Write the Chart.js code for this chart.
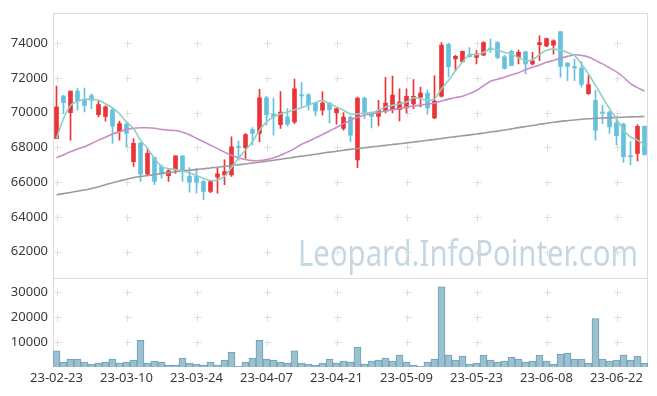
<!DOCTYPE html>
<html><head><meta charset="utf-8">
<script src="https://cdn.jsdelivr.net/npm/chart.js@4.4.0/dist/chart.umd.min.js"></script>
<style>html,body{margin:0;padding:0;background:#fff;overflow:hidden}#wrap{width:657px;height:396px;position:relative}</style>
</head><body><div id="wrap"><canvas id="c" width="657" height="396"></canvas></div>
<script>
const dates = ["23-02-23","23-02-24","23-02-27","23-02-28","23-03-02","23-03-03","23-03-06","23-03-07","23-03-08","23-03-09",
"23-03-10","23-03-13","23-03-14","23-03-15","23-03-16","23-03-17","23-03-20","23-03-21","23-03-22","23-03-23",
"23-03-24","23-03-27","23-03-28","23-03-29","23-03-30","23-03-31","23-04-03","23-04-04","23-04-05","23-04-06",
"23-04-07","23-04-10","23-04-11","23-04-12","23-04-13","23-04-14","23-04-17","23-04-18","23-04-19","23-04-20",
"23-04-21","23-04-24","23-04-25","23-04-26","23-04-27","23-04-28","23-05-02","23-05-03","23-05-04","23-05-08",
"23-05-09","23-05-10","23-05-11","23-05-12","23-05-15","23-05-16","23-05-17","23-05-18","23-05-19","23-05-22",
"23-05-23","23-05-24","23-05-25","23-05-26","23-05-30","23-05-31","23-06-01","23-06-02","23-06-05","23-06-07",
"23-06-08","23-06-09","23-06-12","23-06-13","23-06-14","23-06-15","23-06-16","23-06-19","23-06-20","23-06-21",
"23-06-22","23-06-23","23-06-26","23-06-27","23-06-28"];

const openP = [68510,70950,70000,71240,70710,70990,69890,69790,70170,68900,
69340,67180,68230,66460,67410,66900,66380,66710,67510,66330,
66330,66040,65470,66290,66420,66420,68050,67980,69030,68800,
70860,69940,69310,69750,69470,71030,71030,70570,70140,70550,
70000,69090,69750,67280,70840,70000,69790,70100,70170,70170,
70270,70510,70900,71130,69700,70950,73940,73090,72940,73340,
73180,73310,73700,74040,73220,73530,73180,73510,72800,73910,
73850,73890,74670,72840,72650,72570,71090,70710,70040,70040,
69410,69340,67530,67660,69220];

const highP = [71530,71000,71240,71410,71410,71090,70710,70400,70250,69510,
69400,68510,68300,67940,67450,67000,66800,67510,67510,66840,
66800,66100,66100,66840,67280,68610,68360,68800,69140,71340,
70940,70840,71220,70230,71940,71750,71100,70600,71220,70600,
70230,70000,69800,70900,70900,70050,70710,72040,72110,71370,
71370,71910,71470,71300,72140,74040,74000,73300,73550,73750,
73570,74100,74230,74100,73300,73600,73600,73550,73470,74420,
74300,74200,74670,72900,73090,72940,72140,71280,70420,70100,
69750,69400,68330,69310,69250];

const lowP = [68510,69940,68420,70140,70040,70230,69750,69510,68230,68420,
68040,66900,66040,66400,65850,66230,66040,66510,66040,65430,
65370,64990,65400,65370,65850,66330,67270,67370,68140,68330,
69280,68710,69090,69220,69370,70330,70140,69810,69850,69410,
69340,69000,68330,66840,69660,69130,69240,69980,69980,69530,
69980,70230,70330,69910,69650,70900,72040,72420,72900,73200,
72800,73300,73470,73100,72500,72700,72800,72230,72750,72990,
73800,73370,72040,71850,71850,71470,71050,68420,69370,68800,
68140,67130,66990,67220,67550];

const closeP = [70330,70570,71240,70670,70420,70710,70460,70330,69220,69370,
68800,68230,66460,67660,66040,66460,66650,67510,66710,66000,
66000,65470,66040,66480,66610,68040,67990,68740,68800,70860,
69890,69750,70040,69340,71370,70970,70460,70100,70550,70170,
70230,69750,68710,70840,70000,69790,70140,70550,71010,70610,
70940,70940,71130,70270,70670,73890,72650,73240,73530,73220,
73370,74040,73660,73180,72550,72700,73470,72800,72990,74040,
74270,74140,72670,72670,72570,71620,71620,68990,69960,69180,
68670,67470,67470,69220,67600];

const volume = [6470,1980,3170,3170,1980,1190,1590,1980,3170,1590,
1980,2780,10710,1590,2380,1980,790,790,3570,1590,
1190,790,1980,790,2780,5950,400,1980,3570,10710,
3170,2780,1980,1590,6470,1590,1190,790,1590,3170,
1590,2380,1980,7940,1190,2380,2780,3570,2380,4760,
1980,790,400,1980,3170,32100,4760,2780,4360,1190,
1590,4760,2780,1980,2380,3970,3170,1980,2380,4760,
2380,1190,5160,5560,3170,3170,1590,19440,3170,2380,
2780,4760,2780,4360,1590];

const ma5 = [68510,69660,70420,70650,70770,70770,70710,70510,70270,69940,
69470,69090,68420,67940,67370,66900,66780,66730,66640,66530,
66380,66210,66100,66130,66330,66840,67370,67850,68330,68990,
69470,69750,69940,70040,70170,70280,70440,70580,70710,70510,
70330,70140,69920,69920,69980,69980,70140,70330,70420,70510,
70610,70860,70800,70710,70800,71370,71850,72420,72900,73340,
73340,73470,73660,73600,73470,73370,73180,72990,73050,73340,
73600,73660,73600,73470,73280,72800,72230,71570,70900,70230,
69660,68990,68610,68420,68140];

const ma20 = [67410,67570,67750,67910,68040,68230,68420,68590,68770,68900,
69040,69100,69130,69130,69100,69040,68990,68970,68870,68730,
68530,68330,68130,67930,67730,67550,67410,67300,67240,67240,
67300,67410,67550,67730,67930,68180,68350,68550,68740,68950,
69150,69370,69570,69730,69870,69930,70010,70100,70170,70240,
70310,70380,70440,70500,70550,70670,70780,70870,70950,71100,
71280,71550,71810,71930,72040,72180,72300,72470,72610,72750,
72900,73010,73130,73240,73330,73300,73210,73010,72810,72580,
72350,72040,71670,71440,71240];

const ma60 = [65280,65340,65410,65480,65550,65640,65740,65850,65970,66070,
66170,66260,66330,66380,66440,66500,66550,66600,66650,66690,
66730,66770,66820,66860,66910,66950,67000,67050,67100,67150,
67210,67260,67320,67380,67440,67500,67550,67610,67670,67730,
67780,67840,67890,67940,67980,68030,68070,68120,68170,68210,
68260,68310,68360,68410,68460,68510,68570,68620,68670,68720,
68770,68830,68890,68940,69000,69070,69140,69200,69260,69330,
69390,69450,69500,69540,69580,69620,69650,69670,69690,69710,
69730,69740,69760,69770,69780];

const priceTicks = [62000,64000,66000,68000,70000,72000,74000];
const volumeTicks = [10000,20000,30000];
const labelEvery = 10;
const watermark = "Leopard.InfoPointer.com";

const FONT = '"Noto Sans", "DejaVu Sans", sans-serif';
const UP = '#ec3338', DOWN = '#66c2dc';
const candleColors = closeP.map((c,i)=> c >= openP[i] ? UP : DOWN);

const decor = {
  id: 'decor',
  beforeDatasetsDraw(chart) {
    const {ctx, chartArea, scales} = chart;
    const x = scales.x, y = scales.y, yv = scales.yv;
    ctx.save();
    ctx.font = '36px ' + FONT;
    const w = ctx.measureText(watermark).width;
    ctx.translate(chartArea.right - 10, y.bottom - 12);
    ctx.scale(340 / w, 1);
    ctx.textAlign = 'right';
    ctx.textBaseline = 'alphabetic';
    ctx.fillStyle = '#c6d7e4';
    ctx.fillText(watermark, 0, 0);
    ctx.restore();

    ctx.save();
    ctx.strokeStyle = '#dedede';
    ctx.lineWidth = 1;
    ctx.beginPath();
    const xs = [];
    for (let i = 0; i < dates.length; i += labelEvery) xs.push(Math.round(x.getPixelForValue(i)) + 0.5);
    const addCross = (px, py) => {
      py = Math.round(py) + 0.5;
      ctx.moveTo(px - 3, py); ctx.lineTo(px + 4, py);
      ctx.moveTo(px, py - 3); ctx.lineTo(px, py + 4);
    };
    xs.forEach(px => {
      priceTicks.forEach(v => addCross(px, y.getPixelForValue(v)));
      volumeTicks.forEach(v => addCross(px, yv.getPixelForValue(v)));
    });
    ctx.stroke();
    ctx.strokeStyle = '#dcdcdc';
    ctx.beginPath();
    const top = Math.min(y.top, yv.top), bottom = Math.max(y.bottom, yv.bottom);
    const mid = Math.max(y.top, yv.top);
    const L = Math.round(chartArea.left) + 0.5, R = Math.round(chartArea.right) - 0.5;
    const T = Math.round(top) + 0.5, M = Math.round(mid) + 0.5, B = Math.round(bottom) - 0.5;
    ctx.moveTo(L, T); ctx.lineTo(R, T); ctx.lineTo(R, B); ctx.lineTo(L, B); ctx.closePath();
    ctx.moveTo(L, M); ctx.lineTo(R, M);
    ctx.stroke();
    ctx.restore();
  }
};

new Chart(document.getElementById('c'), {
  type: 'bar',
  data: {
    labels: dates,
    datasets: [
      { type: 'line', data: ma5, borderColor: '#8fd0c5', borderWidth: 1.6, pointRadius: 0, tension: 0.3, yAxisID: 'y', order: 0 },
      { type: 'line', data: ma20, borderColor: '#c98cc6', borderWidth: 1.6, pointRadius: 0, tension: 0.3, yAxisID: 'y', order: 0 },
      { type: 'line', data: ma60, borderColor: '#9b9b9b', borderWidth: 1.6, pointRadius: 0, tension: 0.3, yAxisID: 'y', order: 0 },
      { type: 'bar', data: lowP.map((l,i)=>[l, highP[i]]), backgroundColor: candleColors, barThickness: 1, grouped: false, yAxisID: 'y', order: 2 },
      { type: 'bar', data: openP.map((o,i)=>[o, closeP[i]]), backgroundColor: candleColors, barThickness: 4, minBarLength: 1, grouped: false, yAxisID: 'y', order: 1 },
      { type: 'bar', data: volume, backgroundColor: '#9bc0d0', borderColor: '#6e9fb6', borderWidth: 1, barPercentage: 1, categoryPercentage: 1, grouped: false, yAxisID: 'yv', order: 3 }
    ]
  },
  options: {
    responsive: false,
    devicePixelRatio: 1,
    animation: false,
    layout: { padding: { top: 10, right: 9, left: 0, bottom: 0 } },
    plugins: { legend: { display: false }, tooltip: { enabled: false } },
    scales: {
      x: {
        type: 'category', offset: true,
        grid: { display: false, drawTicks: false },
        border: { display: false },
        ticks: {
          autoSkip: false, maxRotation: 0, minRotation: 0, padding: 3,
          color: '#3a3a3a', font: { family: FONT, size: 13 },
          callback: (v, i) => (i % labelEvery === 0 ? dates[i] : '')
        },
        afterFit(s) { s.height = 29; }
      },
      yv: {
        type: 'linear', position: 'left', stack: 'panels', stackWeight: 90,
        min: 0, max: 35800,
        grid: { display: false, drawTicks: false },
        border: { display: false },
        afterBuildTicks(s) { s.ticks = volumeTicks.map(v => ({ value: v })); },
        ticks: { padding: 5, color: '#3a3a3a', font: { family: FONT, size: 13 }, callback: v => String(v) },
        afterFit(s) { s.width = 53; }
      },
      y: {
        type: 'linear', position: 'left', stack: 'panels', stackWeight: 267,
        min: 60500, max: 75750,
        grid: { display: false, drawTicks: false },
        border: { display: false },
        afterBuildTicks(s) { s.ticks = priceTicks.map(v => ({ value: v })); },
        ticks: { padding: 5, color: '#3a3a3a', font: { family: FONT, size: 13 }, callback: v => String(v) },
        afterFit(s) { s.width = 53; }
      }
    }
  },
  plugins: [decor]
});
</script></body></html>
